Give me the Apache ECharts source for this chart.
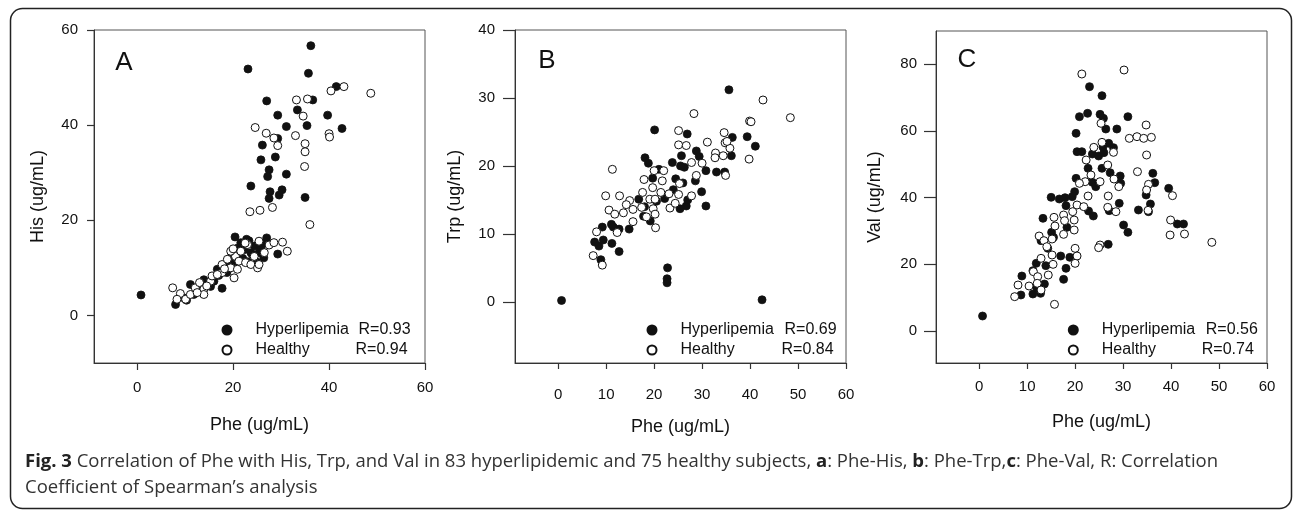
<!DOCTYPE html>
<html>
<head>
<meta charset="utf-8">
<script src="https://cdn.jsdelivr.net/npm/echarts@6/dist/echarts.min.js"></script>
<style>
  html, body { margin: 0; padding: 0; background: #fff; }
  #chart { width: 1295px; height: 511px; }
</style>
</head>
<body>
<div id="chart"></div>
<script>
// ===== data =====
const hisHyper = [
  [36.2,56.7],[23.1,51.8],[35.7,50.9],[41.5,48.1],[36.6,45.3],[27.0,45.1],[33.4,43.2],[29.3,42.1],[39.7,42.1],
  [35.4,39.9],[31.1,39.7],[42.7,39.3],[26.1,35.8],[29.3,37.2],[28.8,33.3],[25.8,32.7],[27.5,30.6],[27.2,29.2],
  [31.1,29.7],[23.7,27.2],[27.7,26.0],[30.2,26.4],[29.6,25.3],[27.5,24.6],[35.0,24.8],
  [0.8,4.3],[8.0,2.3],[9.7,3.7],[11.1,6.5],[11.8,4.4],[13.9,7.5],[15.3,6.1],[17.7,5.7],[16.7,9.7],[18.1,10.3],
  [19.5,12.1],[20.4,16.5],[21.6,15.3],[22.3,13.8],[23.3,15.7],[23.7,13.2],[25.4,13.2],[26.4,12.1],[27.0,16.3],
  [29.3,12.9],[17.0,8.4],[19.0,11.0],[20.5,10.8],[22.0,12.0],[24.5,14.6],[25.0,11.2],[26.0,15.0],[12.5,5.2],
  [14.5,6.8],[18.7,9.0],[21.0,14.2],[24.0,12.8],[10.3,3.2],[16.0,7.2],[19.8,11.6],[23.0,11.3],[25.8,14.2],[22.8,16.0]
];
const hisHealthy = [
  [43.1,48.1],[40.4,47.2],[48.7,46.7],[33.2,45.3],[35.5,45.5],[34.6,41.9],[24.6,39.5],[26.9,38.3],[28.5,37.3],
  [29.3,35.7],[33.0,37.8],[40.0,38.2],[40.1,37.5],[35.0,36.1],[35.0,34.4],[34.9,31.3],[23.5,21.8],[25.6,22.1],
  [28.2,22.7],[36.0,19.1],
  [7.4,5.8],[9.0,4.6],[8.3,3.4],[10.1,3.4],[11.1,4.4],[12.1,5.8],[13.0,6.9],[13.9,5.5],[15.3,7.2],[15.6,8.3],
  [13.9,4.4],[17.7,10.7],[17.7,9.0],[19.5,10.0],[20.2,7.9],[20.5,12.4],[21.2,11.4],[20.9,9.7],[23.0,14.9],
  [22.6,11.1],[23.7,10.7],[24.4,12.4],[25.4,15.6],[25.1,10.0],[25.4,10.7],[27.5,14.8],[28.5,15.3],[30.3,15.4],
  [31.3,13.5],[21.6,13.5],[19.5,13.5],[18.8,11.8],[16.7,8.6],[14.5,6.2],[20.0,14.0],[22.5,15.2],[26.5,13.2],
  [12.5,4.8],[18.2,9.8]
];
const trpHyper = [
  [0.7,0.2],[42.5,0.3],[22.8,5.0],[22.7,3.4],[22.7,2.8],[35.6,31.2],[20.1,25.3],[26.9,24.7],[39.4,24.3],[36.3,24.2],
  [41.1,22.9],[36.1,21.5],[28.8,22.2],[29.4,21.4],[25.7,21.5],[23.8,20.5],[18.1,21.2],[18.8,20.4],[19.7,18.2],
  [30.8,19.3],[33.0,19.1],[34.7,19.1],[28.6,17.8],[29.9,16.2],[30.8,14.1],[26.7,14.1],[25.4,13.7],[24.5,18.1],
  [22.2,15.2],[16.8,15.1],[17.8,12.6],[19.2,11.9],[14.8,10.7],[12.7,10.7],[11.1,11.4],[9.2,11.0],[7.6,8.8],
  [8.5,8.2],[9.4,9.1],[11.2,8.6],[12.7,7.4],[8.9,6.2],[26.3,19.8],[27.0,15.0],[25.5,20.0],[21.0,19.5],[24.0,16.5],
  [20.5,14.8],[26.0,17.5],[18.0,14.0],[11.5,11.0]
];
const trpHealthy = [
  [42.7,29.7],[48.4,27.1],[28.3,27.7],[39.9,26.6],[40.2,26.5],[25.1,25.2],[34.6,24.9],[31.1,23.5],[25.1,23.1],
  [26.7,23.0],[34.8,23.4],[35.8,22.6],[39.8,21.0],[32.8,21.9],[32.7,21.2],[34.4,21.5],[30.0,20.4],[27.8,20.5],
  [34.9,18.6],[28.8,18.6],[11.3,19.5],[17.9,18.0],[20.0,19.3],[22.0,19.3],[21.7,17.8],[25.3,17.4],[19.7,16.8],
  [21.4,16.1],[17.6,16.1],[23.1,15.9],[25.1,15.8],[27.8,15.6],[9.9,15.6],[12.8,15.6],[14.9,14.9],[14.2,14.3],
  [15.6,13.6],[17.4,13.9],[19.1,15.1],[20.2,15.1],[19.8,13.7],[20.2,12.9],[23.3,13.8],[24.4,14.5],[10.6,13.5],
  [11.8,12.9],[13.6,13.1],[15.6,11.8],[12.3,10.2],[20.3,10.9],[8.0,10.3],[7.3,6.8],[9.2,5.4],[18.4,12.5],[35.2,23.6]
];
const valHyper = [
  [0.7,4.5],[23.0,73.3],[25.6,70.6],[20.9,64.3],[22.6,65.3],[25.2,65.0],[25.9,63.8],[31.0,64.3],[28.7,60.6],
  [26.4,60.6],[20.2,59.3],[20.4,53.8],[21.4,53.8],[23.6,53.1],[24.9,52.5],[26.0,53.5],[27.0,56.3],[28.0,55.0],
  [25.8,55.2],[22.7,48.8],[25.6,48.8],[27.3,47.5],[36.2,47.3],[36.6,44.5],[29.5,44.3],[29.4,46.5],[23.6,44.6],
  [24.3,43.3],[20.2,45.8],[19.9,41.8],[19.4,40.3],[39.5,42.8],[34.8,40.8],[35.7,38.1],[29.2,38.3],[27.1,36.1],
  [33.2,36.3],[35.3,35.8],[22.8,36.0],[23.8,34.5],[30.1,31.8],[31.0,29.6],[41.3,32.1],[42.6,32.1],[26.9,26.0],
  [15.0,40.1],[16.7,39.6],[17.9,40.0],[18.1,37.6],[18.3,31.1],[13.3,33.8],[15.1,29.6],[15.5,28.1],[12.9,27.1],
  [14.3,24.8],[11.9,20.3],[13.9,19.6],[17.0,22.5],[18.9,22.1],[18.1,18.8],[17.6,15.5],[13.6,14.1],[11.2,18.1],
  [8.9,16.5],[8.7,10.8],[11.2,11.1],[12.8,11.3],[12.0,13.0]
];
const valHealthy = [
  [21.4,77.1],[30.2,78.3],[25.4,62.3],[34.8,61.8],[31.3,57.8],[32.9,58.3],[34.3,57.8],[35.9,58.1],[34.9,52.8],
  [25.6,56.6],[23.9,55.1],[28.0,53.6],[22.3,51.3],[26.8,49.8],[33.0,47.8],[23.3,46.8],[25.2,44.8],[28.1,45.6],
  [22.1,44.8],[20.9,44.3],[29.1,43.3],[35.3,44.0],[34.9,42.3],[22.7,40.5],[26.9,40.5],[40.3,40.6],[20.4,37.8],
  [21.8,37.3],[26.8,37.1],[28.5,35.8],[35.2,36.2],[39.9,33.3],[39.8,28.8],[42.8,29.1],[48.5,26.6],[25.2,25.8],
  [24.9,25.0],[17.6,34.8],[19.5,35.8],[15.6,34.1],[17.8,33.1],[19.8,33.3],[15.8,31.5],[19.8,30.3],[17.6,29.0],
  [12.5,28.5],[13.5,27.1],[15.2,27.6],[14.1,25.3],[20.0,24.8],[20.4,22.5],[15.2,22.8],[12.9,21.8],[15.4,20.0],
  [20.0,20.3],[11.3,17.8],[14.4,16.8],[12.2,16.3],[12.1,14.3],[8.1,13.8],[10.4,13.5],[12.9,12.3],[7.4,10.3],[15.7,8.0]
];

const xTicksA = [0, 20, 40, 60];
const xTicksBC = [0, 10, 20, 30, 40, 50, 60];
const yTicksA = [0, 20, 40, 60];
const yTicksB = [0, 10, 20, 30, 40];
const yTicksC = [0, 20, 40, 60, 80];
const rValues = [['R=0.93','R=0.94'], ['R=0.69','R=0.84'], ['R=0.56','R=0.74']];

// ===== layout per panel =====
const FONT = 'Liberation Sans, Arial, sans-serif';
const panels = [
  { letter:'A', yName:'His (ug/mL)', left:94,  top:30, h:333, ymin:-10, ymax:60, xt:xTicksA,  yt:yTicksA,
    hyper:hisHyper, healthy:hisHealthy, xm:17, ym:16, xg:53, yg:47, ytl:7,  xtl:7, lx:[124,63], lg:[221.5,322,103,100] },
  { letter:'B', yName:'Trp (ug/mL)', left:515, top:30, h:333, ymin:-9,  ymax:40, xt:xTicksBC, yt:yTicksB,
    hyper:trpHyper, healthy:trpHealthy, xm:24, ym:20, xg:55, yg:51, ytl:12, xtl:6, lx:[547,61], lg:[646.5,322,104,101] },
  { letter:'C', yName:'Val (ug/mL)', left:936, top:31, h:332, ymin:-9.6, ymax:90, xt:xTicksBC, yt:yTicksC,
    hyper:valHyper, healthy:valHealthy, xm:16, ym:19, xg:50, yg:52, ytl:12, xtl:6, lx:[967,60], lg:[1067.8,322,104,100] }
];

const grid = [], xAxis = [], yAxis = [], series = [], legend = [], graphic = [];

panels.forEach((p, i) => {
  grid.push({ left:p.left, top:p.top, width:331, height:p.h, show:true, borderColor:'#555', borderWidth:1 });
  xAxis.push({
    gridIndex:i, type:'value', min:-9, max:60,
    axisLine:{ show:true, onZero:false, lineStyle:{ color:'#333', width:1 } },
    axisTick:{ show:true, length:p.xtl, customValues:p.xt, lineStyle:{ color:'#333', width:1.2 } },
    axisLabel:{ customValues:p.xt, margin:p.xm, fontSize:15, color:'#111', fontFamily:FONT },
    splitLine:{ show:false },
    name:'Phe (ug/mL)', nameLocation:'middle', nameGap:p.xg,
    nameTextStyle:{ fontSize:18, color:'#111', fontFamily:FONT }
  });
  yAxis.push({
    gridIndex:i, type:'value', min:p.ymin, max:p.ymax,
    axisLine:{ show:true, onZero:false, lineStyle:{ color:'#333', width:1 } },
    axisTick:{ show:true, length:p.ytl, customValues:p.yt, lineStyle:{ color:'#333', width:1.2 } },
    axisLabel:{ customValues:p.yt, margin:p.ym, fontSize:15, color:'#111', fontFamily:FONT },
    splitLine:{ show:false },
    name:p.yName, nameLocation:'middle', nameGap:p.yg,
    nameTextStyle:{ fontSize:18, color:'#111', fontFamily:FONT }
  });
  series.push({
    name:'Hyperlipemia', type:'scatter', xAxisIndex:i, yAxisIndex:i, data:p.hyper,
    symbol:'circle', symbolSize:8,
    itemStyle:{ color:'#111', borderColor:'#111', borderWidth:0.8, opacity:1 }
  });
  series.push({
    name:'Healthy', type:'scatter', xAxisIndex:i, yAxisIndex:i, data:p.healthy,
    symbol:'circle', symbolSize:8,
    itemStyle:{ color:'#fff', borderColor:'#111', borderWidth:1, opacity:1 }
  });
  const r = rValues[i];
  legend.push({
    orient:'vertical', left:p.lg[0], top:p.lg[1], padding:0, itemWidth:9, itemHeight:9, itemGap:4,
    selectedMode:false,
    data:[{ name:'Hyperlipemia', icon:'circle' }, { name:'Healthy', icon:'circle' }],
    formatter: name => name === 'Hyperlipemia' ? '{n|Hyperlipemia}{r|' + r[0] + '}' : '{m|Healthy}{r|' + r[1] + '}',
    textStyle:{
      fontSize:16, color:'#111', fontFamily:FONT,
      rich:{
        n:{ fontSize:16, fontFamily:FONT, color:'#111', width:p.lg[2], padding:[0,0,0,19], lineHeight:18 },
        m:{ fontSize:16, fontFamily:FONT, color:'#111', width:p.lg[3], padding:[0,0,0,19], lineHeight:18 },
        r:{ fontSize:16, fontFamily:FONT, color:'#111', lineHeight:18 }
      }
    }
  });
  graphic.push({
    type:'text', x:p.lx[0], y:p.lx[1],
    style:{ text:p.letter, font:'26px ' + FONT, fill:'#111', textAlign:'center', textVerticalAlign:'middle' }
  });
});

// outer frame + caption
graphic.push({
  type:'rect', shape:{ x:10.5, y:8.5, width:1281, height:500, r:12 },
  style:{ fill:'none', stroke:'#222', lineWidth:1.5 }, z:-1
});
const capFont = '"Open Sans", sans-serif';
graphic.push({
  type:'text', x:25, y:462,
  style:{
    text:'{b|Fig. 3} Correlation of Phe with His, Trp, and Val in 83 hyperlipidemic and 75 healthy subjects, {b|a}: Phe-His, {b|b}: Phe-Trp,{b|c}: Phe-Val, R: Correlation',
    font:'18.5px ' + capFont, fill:'#333', textVerticalAlign:'middle',
    rich:{ b:{ fontWeight:'bold', fontSize:18.5, fontFamily:capFont, fill:'#222' } }
  }
});
graphic.push({
  type:'text', x:25, y:488,
  style:{ text:'Coefficient of Spearman\u2019s analysis', font:'18.5px ' + capFont, fill:'#333', textVerticalAlign:'middle' }
});

const chart = echarts.init(document.getElementById('chart'), null, { renderer:'canvas' });
chart.setOption({
  animation:false,
  backgroundColor:'#fff',
  grid, xAxis, yAxis, series, legend, graphic
});
</script>
</body>
</html>
